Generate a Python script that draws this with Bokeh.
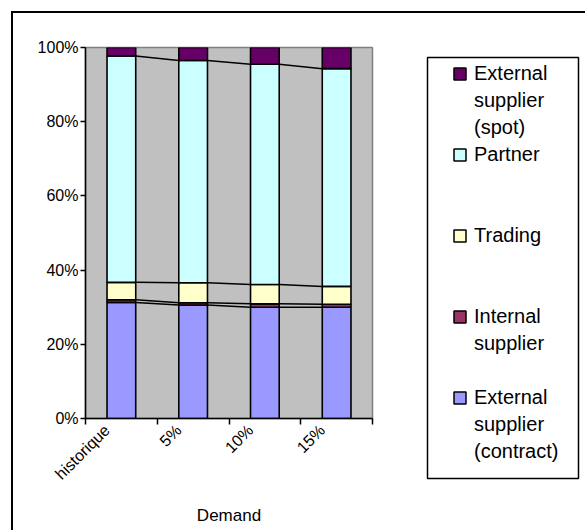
import numpy as np
from math import pi
from bokeh.plotting import figure
from bokeh.layouts import row
from bokeh.models import Range1d, FixedTicker, Legend, LegendItem, ColumnDataSource
from bokeh.embed import file_html
from bokeh.resources import INLINE

# ---- data (percent of total) ----
categories = ["historique", "5%", "10%", "15%"]
ext_contract = [31.3, 30.6, 30.0, 30.0]
internal = [0.7, 0.6, 0.9, 0.8]
trading = [4.7, 5.4, 5.2, 4.8]
partner = [61.0, 59.9, 59.4, 58.7]
ext_spot = [2.3, 3.5, 4.5, 5.7]

series_keys = ["contract", "internal", "trading", "partner", "spot"]
series_labels = ["External\nsupplier\n(contract)", "Internal\nsupplier", "Trading",
                 "Partner", "External\nsupplier\n(spot)"]
series_colors = ["#9999FF", "#993366", "#FFFFCC", "#CCFFFF", "#660066"]

y_ticks = [0, 20, 40, 60, 80, 100]
y_tick_labels = ["0%", "20%", "40%", "60%", "80%", "100%"]

FONT = "Liberation Sans"
BAR_W = 0.4
LABEL_SHIFT = -0.2
LEGEND_GAPS = [0, 2, 2, 1]   # blank lines after each legend entry (top to bottom)

n = len(categories)
centers = np.arange(n) + 0.5
data = dict(x=centers, contract=ext_contract, internal=internal, trading=trading,
            partner=partner, spot=ext_spot)
src = ColumnDataSource(data)

p = figure(width=369, height=519, output_backend="svg", toolbar_location=None,
           x_range=Range1d(0, n), y_range=Range1d(0, 100), frame_align=False,
           min_border_left=72, min_border_top=34, min_border_right=10, min_border_bottom=114,
           styles={"border-left": "2px solid black", "border-top": "2px solid black"})
p.background_fill_color = "#C0C0C0"
p.border_fill_color = "white"
p.outline_line_color = "#808080"
p.outline_line_width = 1.5
p.grid.visible = False

renderers = p.vbar_stack(series_keys, x="x", width=BAR_W, source=src,
                         color=series_colors, line_color="black", line_width=1.6)

# series lines between bars
cum = np.cumsum(np.array([ext_contract, internal, trading, partner]), axis=0)
xs, ys = [], []
for level in cum:
    for i in range(n - 1):
        xs.append([centers[i] + BAR_W / 2, centers[i + 1] - BAR_W / 2])
        ys.append([level[i], level[i + 1]])
p.multi_line(xs, ys, line_color="black", line_width=1.5)

# y axis
p.yaxis.ticker = FixedTicker(ticks=y_ticks)
p.yaxis.major_label_overrides = {t: l for t, l in zip(y_ticks, y_tick_labels)}
p.yaxis.major_label_text_font = FONT
p.yaxis.major_label_text_font_size = "16px"
p.yaxis.major_label_text_color = "black"
p.yaxis.axis_line_color = "black"
p.yaxis.axis_line_width = 1.5
p.yaxis.major_tick_line_width = 1.5
p.yaxis.major_tick_in = 0
p.yaxis.major_tick_out = 5
p.yaxis.minor_tick_line_color = None
p.yaxis.major_label_standoff = 2

# x axis: labels near category centers, tick marks at category boundaries
label_pos = [float(c + LABEL_SHIFT) for c in centers]
p.xaxis.ticker = FixedTicker(ticks=label_pos, minor_ticks=list(np.arange(n + 1)))
p.xaxis.major_label_overrides = {c: lab for c, lab in zip(label_pos, categories)}
p.xaxis.major_label_orientation = pi / 4
p.xaxis.major_label_text_font = FONT
p.xaxis.major_label_text_font_size = "16px"
p.xaxis.major_label_text_color = "black"
p.xaxis.major_tick_in = 0
p.xaxis.major_tick_out = 0
p.xaxis.minor_tick_in = 0
p.xaxis.minor_tick_out = 6
p.xaxis.minor_tick_line_width = 1.5
p.xaxis.minor_tick_line_color = "black"
p.xaxis.axis_line_color = "black"
p.xaxis.axis_line_width = 1.5
p.xaxis.major_label_standoff = 3
p.xaxis.axis_label = "Demand"
p.xaxis.axis_label_text_font = FONT
p.xaxis.axis_label_text_font_size = "17px"
p.xaxis.axis_label_text_font_style = "normal"
p.xaxis.axis_label_text_color = "black"
p.xaxis.axis_label_standoff = 14

# ---- legend panel: its frame outline is the legend box ----
lf = figure(width=205, height=519, output_backend="svg", toolbar_location=None,
            x_axis_location=None, y_axis_location=None, frame_align=False,
            x_range=Range1d(-20, -19), y_range=Range1d(-20, -19),
            min_border_left=47, min_border_right=7, min_border_top=44, min_border_bottom=54,
            styles={"border-top": "2px solid black"})
lf.grid.visible = False
lf.background_fill_color = "white"
lf.border_fill_color = "white"
lf.outline_line_color = "black"
lf.outline_line_width = 1.5

# legend swatches reuse the chart data (kept outside this panel's visible range)
blank = lf.vbar(x="x", top="contract", width=BAR_W, source=src, fill_alpha=0, line_alpha=0)
items = []
order = list(range(len(series_keys)))[::-1]
for k, idx in enumerate(order):
    sw = lf.vbar(x="x", top=series_keys[idx], width=BAR_W, source=src,
                 fill_color=series_colors[idx], line_color="black", line_width=1.5)
    lines = series_labels[idx].split("\n")
    items.append(LegendItem(label=lines[0], renderers=[sw]))
    for ln in lines[1:]:
        items.append(LegendItem(label=ln, renderers=[blank]))
    if k < len(LEGEND_GAPS):
        for _ in range(LEGEND_GAPS[k]):
            items.append(LegendItem(label=" ", renderers=[blank]))

legend = Legend(items=items, location=(25, 13))
legend.label_text_font = FONT
legend.label_text_font_size = "20px"
legend.label_text_color = "black"
legend.glyph_width = 15
legend.glyph_height = 15
legend.label_height = 27
legend.label_standoff = 7
legend.spacing = 0
legend.padding = 0
legend.margin = 0
legend.border_line_color = None
legend.background_fill_alpha = 0
lf.add_layout(legend)

layout = row(p, lf, margin=(11, 0, 0, 11))
open("out.html", "w").write(file_html(layout, INLINE))
